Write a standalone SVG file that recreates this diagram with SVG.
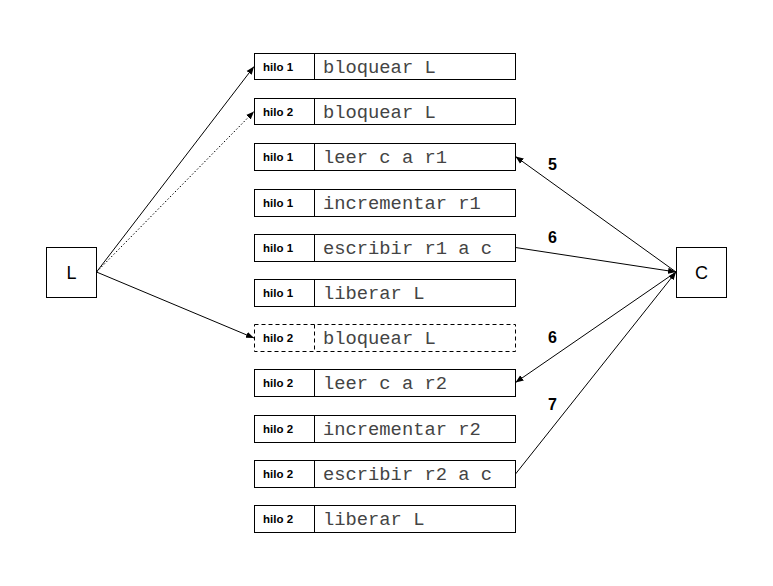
<svg xmlns="http://www.w3.org/2000/svg" width="773" height="586" viewBox="0 0 773 586">
<defs>
<style>
.box{fill:#fff;stroke:#000;stroke-width:1}
.dash{stroke-dasharray:4 3}
.tag{font-family:"Liberation Sans",Arial,sans-serif;font-weight:bold;font-size:11.5px;fill:#000}
.code{font-family:"Liberation Mono","Courier New",monospace;font-size:18.8px;fill:#444}
.big{font-family:"Liberation Sans",Arial,sans-serif;font-size:18px;fill:#000;text-anchor:middle}
.num{font-family:"Liberation Sans",Arial,sans-serif;font-weight:bold;font-size:16px;fill:#000}
.con{fill:none;stroke:#000;stroke-width:1;marker-end:url(#ah)}
</style>
<marker id="ah" viewBox="0 0 10 10" refX="10" refY="5" markerWidth="8" markerHeight="8" markerUnits="userSpaceOnUse" orient="auto">
<path d="M0,1 L10,5 L0,9 Z" fill="#000"/>
</marker>
</defs>
<rect width="773" height="586" fill="#fff"/>

<g id="nodeL"><rect class="box" x="46.5" y="247.5" width="50" height="50"/><text class="big" x="71.5" y="279">L</text></g>
<g id="nodeC"><rect class="box" x="676.5" y="247.5" width="50" height="50"/><text class="big" x="701.5" y="279">C</text></g>

<g id="row1"><rect class="box" x="254.5" y="53.5" width="261" height="26"/><line x1="314.5" y1="53.5" x2="314.5" y2="79.5" stroke="#000"/><text class="tag" x="263" y="71">hilo 1</text><text class="code" x="323" y="73">bloquear L</text></g>
<g id="row2"><rect class="box" x="254.5" y="98.5" width="261" height="26"/><line x1="314.5" y1="98.5" x2="314.5" y2="124.5" stroke="#000"/><text class="tag" x="263" y="116">hilo 2</text><text class="code" x="323" y="118">bloquear L</text></g>
<g id="row3"><rect class="box" x="254.5" y="143.5" width="261" height="27"/><line x1="314.5" y1="143.5" x2="314.5" y2="170.5" stroke="#000"/><text class="tag" x="263" y="161">hilo 1</text><text class="code" x="323" y="163">leer c a r1</text></g>
<g id="row4"><rect class="box" x="254.5" y="189.5" width="261" height="27"/><line x1="314.5" y1="189.5" x2="314.5" y2="216.5" stroke="#000"/><text class="tag" x="263" y="207">hilo 1</text><text class="code" x="323" y="209">incrementar r1</text></g>
<g id="row5"><rect class="box" x="254.5" y="234.5" width="261" height="27"/><line x1="314.5" y1="234.5" x2="314.5" y2="261.5" stroke="#000"/><text class="tag" x="263" y="252">hilo 1</text><text class="code" x="323" y="254">escribir r1 a c</text></g>
<g id="row6"><rect class="box" x="254.5" y="279.5" width="261" height="27"/><line x1="314.5" y1="279.5" x2="314.5" y2="306.5" stroke="#000"/><text class="tag" x="263" y="297">hilo 1</text><text class="code" x="323" y="299">liberar L</text></g>
<g id="row7"><rect class="box dash" x="254.5" y="324.5" width="261" height="27"/><line class="dash" x1="314.5" y1="324.5" x2="314.5" y2="351.5" stroke="#000"/><text class="tag" x="263" y="342">hilo 2</text><text class="code" x="323" y="344">bloquear L</text></g>
<g id="row8"><rect class="box" x="254.5" y="369.5" width="261" height="27"/><line x1="314.5" y1="369.5" x2="314.5" y2="396.5" stroke="#000"/><text class="tag" x="263" y="387">hilo 2</text><text class="code" x="323" y="389">leer c a r2</text></g>
<g id="row9"><rect class="box" x="254.5" y="415.5" width="261" height="27"/><line x1="314.5" y1="415.5" x2="314.5" y2="442.5" stroke="#000"/><text class="tag" x="263" y="433">hilo 2</text><text class="code" x="323" y="435">incrementar r2</text></g>
<g id="row10"><rect class="box" x="254.5" y="460.5" width="261" height="27"/><line x1="314.5" y1="460.5" x2="314.5" y2="487.5" stroke="#000"/><text class="tag" x="263" y="478">hilo 2</text><text class="code" x="323" y="480">escribir r2 a c</text></g>
<g id="row11"><rect class="box" x="254.5" y="505.5" width="261" height="27"/><line x1="314.5" y1="505.5" x2="314.5" y2="532.5" stroke="#000"/><text class="tag" x="263" y="523">hilo 2</text><text class="code" x="323" y="525">liberar L</text></g>

<g id="connectors">
<line class="con" x1="96.5" y1="272" x2="254" y2="66.5"/>
<line class="con" x1="96.5" y1="272" x2="254" y2="111.5" stroke-dasharray="1.5 2"/>
<line class="con" x1="96.5" y1="272" x2="254" y2="338"/>
<line class="con" x1="676" y1="272" x2="515.5" y2="156.5"/>
<line class="con" x1="515.5" y1="247.5" x2="676" y2="272"/>
<line class="con" x1="676" y1="272" x2="515.5" y2="382.5"/>
<line class="con" x1="515.5" y1="474" x2="676" y2="272"/>
<text class="num" x="548" y="170">5</text>
<text class="num" x="548" y="243">6</text>
<text class="num" x="548" y="343">6</text>
<text class="num" x="548" y="410">7</text>
</g>
</svg>
